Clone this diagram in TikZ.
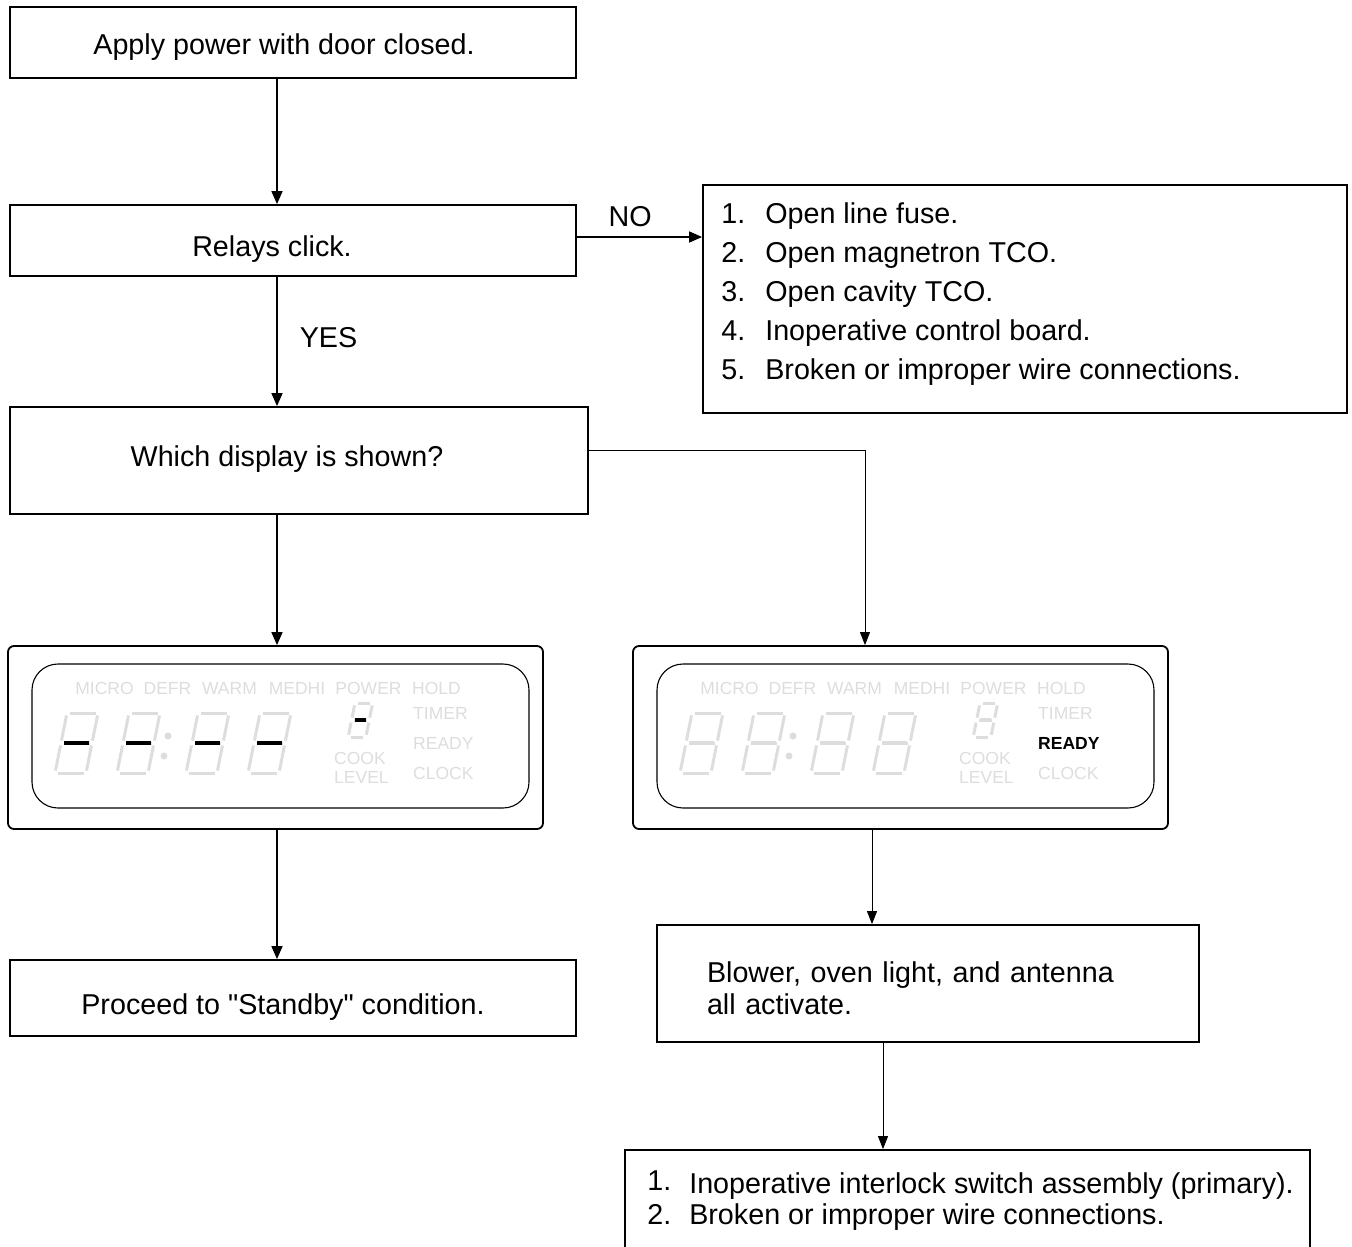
\documentclass[tikz,border=0pt]{standalone}
\usepackage{fontspec}
\setmainfont{Liberation Sans}[Ligatures=TeXOff]
\usetikzlibrary{arrows.meta,positioning}

\definecolor{lcdoff}{HTML}{DDDDDD}
\newcommand{\bigfont}{\fontsize{28.7}{39}\selectfont}
\newcommand{\lcdfont}{\fontsize{17.5}{20}\selectfont}
\newcommand{\lcdbold}{\fontsize{17.5}{20}\selectfont\bfseries}

\tikzset{
  box/.style={draw, line width=1.8pt, inner sep=0pt},
  every label/.style={font=\bigfont, inner sep=0pt},
  lbl/.style={font=\bigfont, inner sep=0pt},
  listtext/.style={font=\bigfont, inner sep=0pt, align=left, anchor=north west},
  flow/.style={line width=1.6pt, -{Triangle[length=13pt,width=11pt]}},
  thinflow/.style={line width=0.9pt, -{Triangle[length=13pt,width=10pt]}},
  panel/.style={draw, line width=1.8pt, rounded corners=6pt, minimum width=535pt, minimum height=183pt},
  screen/.style={draw, line width=1.1pt, rounded corners=26pt, minimum width=497pt, minimum height=144pt},
  lcdtext/.style={font=\lcdfont, text=lcdoff, inner sep=0pt},
  pics/lcddigit/.style={code={
    \foreach \ax/\ay/\bx/\by in {0/0/31/0, 31/0/25/30, 25/30/19/60, 19/60/-12/60, -12/60/-6/30, -6/30/0/0, -6/30/25/30}
      \draw[lcdoff, line width=3pt, shorten <=2.5pt, shorten >=2.5pt] (\ax,\ay) -- (\bx,\by);
    \draw[#1, line width=4pt, shorten <=3pt, shorten >=3pt] (-6,30) -- (25,30);
  }},
}

\begin{document}
\begin{tikzpicture}[x=1pt, y=-1pt]
  \useasboundingbox (0,0) rectangle (1352,1247);
  \clip (0,0) rectangle (1352,1247);

  % left column
  \node[box, minimum width=566pt, minimum height=71pt,
    label={[xshift=-9pt,yshift=-5pt]center:Apply power with door closed.}] (apply) at (293,42.5) {};
  \node[box, minimum width=566pt, minimum height=71pt,
    label={[xshift=-21pt,yshift=-9pt]center:Relays click.}] (relays) at (293,240.5) {};
  \node[box, minimum width=578pt, minimum height=107pt,
    label={[xshift=-12pt,yshift=1pt]center:Which display is shown?}] (which) at (299,460.5) {};
  \node[box, minimum width=566pt, minimum height=76pt,
    label={[xshift=-10pt,yshift=-9pt]center:Proceed to "Standby" condition.}] (standby) at (293,998) {};

  % fault lists
  \node[box, minimum width=644pt, minimum height=228pt] (nobox) at (1025,299) {};
  \node[listtext, below right=18pt and 19pt of nobox.north west] (nolist) {%
    \makebox[44pt][l]{1.}Open line fuse.\\
    \makebox[44pt][l]{2.}Open magnetron TCO.\\
    \makebox[44pt][l]{3.}Open cavity TCO.\\
    \makebox[44pt][l]{4.}Inoperative control board.\\
    \makebox[44pt][l]{5.}Broken or improper wire connections.};

  \node[box, minimum width=542pt, minimum height=117pt, text width=442pt, inner xsep=50pt,
    align=left, font=\fontsize{28.7}{32}\selectfont] (blower) at (928,983.5)
    {\rule{0pt}{31pt}Blower, oven light, and antenna\\all activate.};

  \node[box, minimum width=685pt, minimum height=130pt] (lastbox) at (967.5,1215) {};
  \node[listtext, font=\fontsize{28.7}{31}\selectfont, below right=21pt and 23pt of lastbox.north west] (lastlist) {%
    \makebox[42pt][l]{\raisebox{3pt}{1.}}Inoperative interlock switch assembly (primary).\\
    \makebox[42pt][l]{2.}Broken or improper wire connections.};

  % display panels
  \node[panel] (disp1) at (275.5,737.5) {};
  \node[panel] (disp2) at (900.5,737.5) {};
  \foreach \dx/\seg/\rdy/\rdyfont [count=\i] in {0/black/lcdoff/\lcdfont, 625/lcdoff/black/\lcdbold} {
    \begin{scope}[xshift=\dx pt]
      \node[screen] (screen\i) at (280.5,736) {};
      \foreach \w/\x in {MICRO/104.5, DEFR/167.5, WARM/229.5, MEDHI/297, POWER/368.5, HOLD/436.5}
        \node[lcdtext] (\w\i) at (\x,688) {\w};
      \node[lcdtext, anchor=west] (timer\i) at (413,713) {TIMER};
      \node[lcdtext, anchor=west, text=\rdy, font=\rdyfont] (ready\i) at (413,743) {READY};
      \node[lcdtext, anchor=west] (clock\i) at (413,773) {CLOCK};
      \node[lcdtext, anchor=west] (cook\i) at (334,758) {COOK};
      \node[lcdtext, anchor=west] (level\i) at (334,777) {LEVEL};
      \foreach \x in {67,129,198,260}
        \pic at (\x,713) {lcddigit=\seg};
      \pic[scale=0.57] at (355,703) {lcddigit=\seg};
      \fill[lcdoff] (168,736) circle[radius=3.5pt] (164,756) circle[radius=3.5pt];
    \end{scope}
  }

  % connectors
  \coordinate (spine) at (277,0);
  \draw[flow] (apply.south -| spine) -- (relays.north -| spine);
  \draw[flow] ([yshift=3.5pt]relays.east) -- node[lbl, above=9pt, pos=0.425] (no) {NO}
    ([yshift=3.5pt]relays.east -| nobox.west);
  \draw[flow] (relays.south -| spine) -- node[lbl, right=22pt, pos=0.47] (yes) {YES}
    (which.north -| spine);
  \draw[flow] (which.south -| spine) -- (disp1.north -| spine);
  \draw[flow] (disp1.south -| spine) -- (standby.north -| spine);
  \draw[thinflow] ([yshift=10.5pt]which.east) -| ([xshift=-35.5pt]disp2.north);
  \draw[thinflow] ([xshift=-28.5pt]disp2.south) -- ([xshift=-28.5pt]disp2.south |- blower.north);
  \draw[thinflow] ([xshift=-45pt]blower.south) -- ([xshift=-45pt]blower.south |- lastbox.north);
\end{tikzpicture}
\end{document}
